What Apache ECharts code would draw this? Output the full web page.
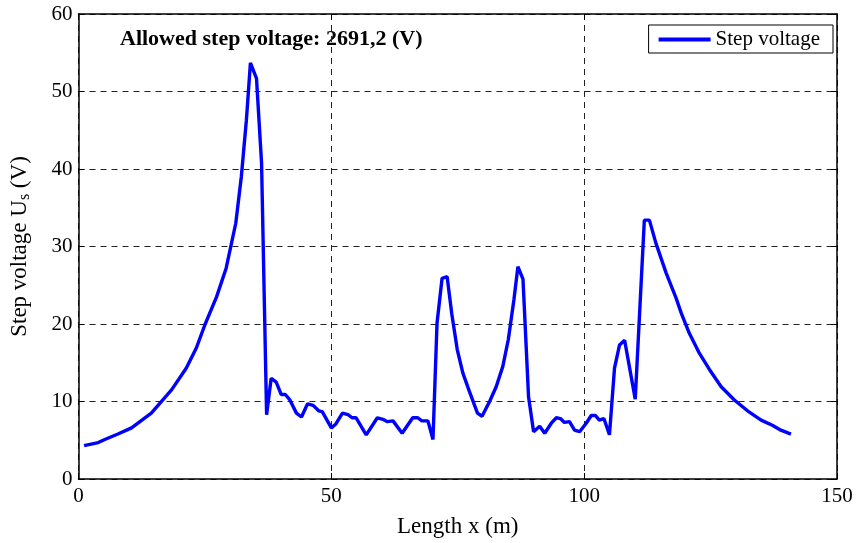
<!DOCTYPE html>
<html>
<head>
<meta charset="utf-8">
<script src="https://cdn.jsdelivr.net/npm/echarts@6/dist/echarts.min.js"></script>
<style>html,body{margin:0;padding:0;background:#fff}#c{width:858px;height:543px}</style>
</head>
<body>
<div id="c"></div>
<script>
const xs = [1.1,3.9,5.2,7.8,10.5,14.4,18.4,21.3,23.3,25.0,27.3,29.2,31.1,32.2,33.2,34.0,35.2,36.2,37.2,38.1,39.1,40.1,40.9,41.8,43.1,44.1,45.3,46.4,47.5,48.2,50.0,50.9,52.2,53.3,54.1,54.9,56.9,59.1,60.2,61.1,62.2,64.0,66.1,67.1,67.9,69.1,70.1,70.9,71.9,72.9,73.8,74.9,76.0,77.3,78.9,79.8,81.3,82.6,83.9,85.0,86.1,86.9,87.9,89.0,90.0,91.2,92.2,93.5,94.5,95.3,96.1,97.1,98.1,99.1,100.4,101.4,102.2,103.0,103.9,105.0,106.0,107.0,108.0,110.1,111.9,112.9,114.2,116.2,118.2,119.2,120.8,122.8,124.8,127.1,129.7,132.3,135.0,137.3,138.9,140.9];
const ys = [4.3,4.7,5.1,5.8,6.6,8.5,11.5,14.3,16.9,19.9,23.5,27.2,33.0,39.0,46.3,53.7,51.7,40.8,8.3,13.0,12.5,10.9,10.9,10.2,8.5,8.0,9.7,9.5,8.8,8.7,6.6,7.1,8.5,8.3,7.9,7.9,5.7,7.9,7.7,7.4,7.5,5.9,7.9,7.9,7.5,7.5,5.1,20.1,25.9,26.1,21.4,16.7,13.7,11.3,8.5,8.1,10.0,11.9,14.5,18.0,23.1,27.4,25.8,10.6,6.1,6.8,5.9,7.2,7.9,7.8,7.3,7.4,6.3,6.1,7.2,8.2,8.2,7.6,7.8,5.7,14.3,17.3,17.9,10.3,33.4,33.4,30.4,26.6,23.3,21.4,18.8,16.2,14.1,11.9,10.2,8.8,7.6,6.9,6.3,5.8];
const seriesName = 'Step voltage';
const xTitle = 'Length x (m)';
const annotation = 'Allowed step voltage: 2691,2 (V)';

const font = 'Liberation Serif';
const data = xs.map((x, i) => [x, ys[i]]);
const chart = echarts.init(document.getElementById('c'), null, {renderer: 'canvas'});
const gridLine = {show: true, lineStyle: {color: '#222', type: [6, 5], width: 1}};
const tick = {show: true, inside: true, length: 6, lineStyle: {color: '#000', width: 1}};
const axLine = {show: true, onZero: false, lineStyle: {color: '#000', width: 1.5}};
chart.setOption({
  animation: false,
  backgroundColor: '#fff',
  grid: {left: 78, right: 21, top: 14, bottom: 63, show: false},
  legend: {
    right: 25, top: 25, orient: 'horizontal',
    data: [{name: seriesName, icon: 'rect'}],
    itemWidth: 52, itemHeight: 4, itemGap: 6,
    borderColor: '#000', borderWidth: 1, padding: [4, 13, 3, 10],
    backgroundColor: '#fff',
    textStyle: {fontFamily: font, fontSize: 21, color: '#000', padding: [0, 0, 0, 0]}
  },
  xAxis: [{
    type: 'value', min: 0, max: 150, interval: 50, position: 'bottom',
    name: xTitle, nameLocation: 'middle', nameGap: 36,
    nameTextStyle: {fontFamily: font, fontSize: 23, color: '#000'},
    axisLine: axLine, axisTick: tick,
    axisLabel: {fontFamily: font, fontSize: 21, color: '#000', margin: 7},
    splitLine: gridLine
  }, {
    type: 'value', min: 0, max: 150, interval: 50, position: 'top',
    axisLine: axLine, axisTick: tick, axisLabel: {show: false}, splitLine: {show: false}
  }],
  yAxis: [{
    type: 'value', min: 0, max: 60, interval: 10, position: 'left',
    name: '{a|Step voltage U}{s|s}{a| (V)}', nameLocation: 'middle', nameGap: 46, nameRotate: 90,
    nameTextStyle: {rich: {
      a: {fontFamily: font, fontSize: 23, color: '#000'},
      s: {fontFamily: font, fontSize: 16, color: '#000', verticalAlign: 'bottom', padding: [10, 0, 0, 0]}
    }},
    axisLine: axLine, axisTick: tick,
    axisLabel: {fontFamily: font, fontSize: 21, color: '#000', margin: 6},
    splitLine: gridLine
  }, {
    type: 'value', min: 0, max: 60, interval: 10, position: 'right',
    axisLine: axLine, axisTick: tick, axisLabel: {show: false}, splitLine: {show: false}
  }],
  graphic: [{
    type: 'text', left: 120, top: 28,
    style: {text: annotation, fontFamily: font, fontSize: 22, fontWeight: 'bold', fill: '#000'}
  }],
  series: [{
    name: seriesName, type: 'line', data: data, showSymbol: false,
    lineStyle: {color: '#0000ff', width: 3.4}, itemStyle: {color: '#0000ff'}
  }]
});
</script>
</body>
</html>
